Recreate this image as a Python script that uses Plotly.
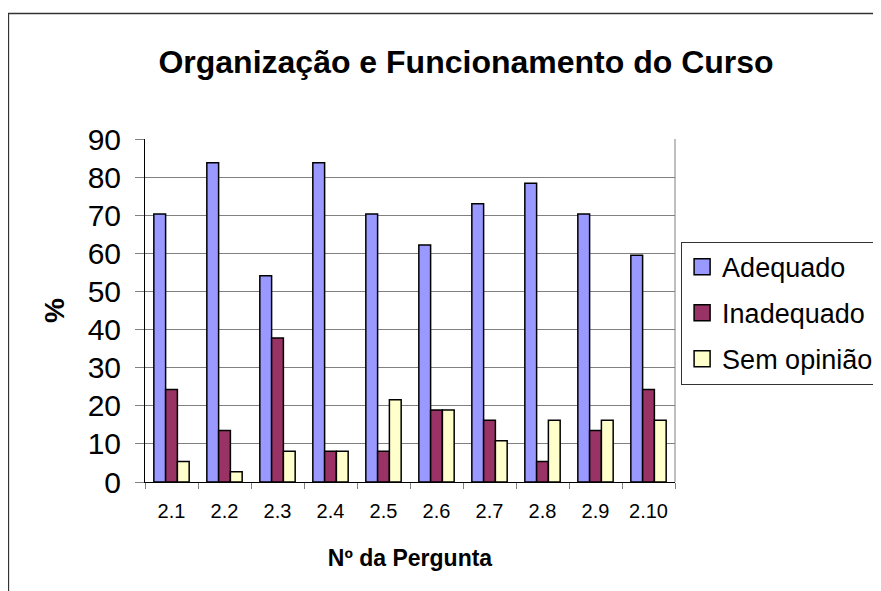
import plotly.graph_objects as go

categories = ["2.1", "2.2", "2.3", "2.4", "2.5", "2.6", "2.7", "2.8", "2.9", "2.10"]
adequado = [70.3, 83.8, 54.1, 83.8, 70.3, 62.2, 73.0, 78.4, 70.3, 59.5]
inadequado = [24.3, 13.5, 37.8, 8.1, 8.1, 18.9, 16.2, 5.4, 13.5, 24.3]
sem_opiniao = [5.4, 2.7, 8.1, 8.1, 21.6, 18.9, 10.8, 16.2, 16.2, 16.2]
series_names = ["Adequado", "Inadequado", "Sem opinião"]
series_values = [adequado, inadequado, sem_opiniao]
series_colors = ["#9999FF", "#993366", "#FFFFCC"]
y_ticks = [0, 10, 20, 30, 40, 50, 60, 70, 80, 90]

FONT = "Arial, 'Liberation Sans', sans-serif"
OFF = 8  # page body margin
W, H = 881 - OFF, 591 - OFF
# plot area in page pixels
L, R, T, B = 145, 674.6, 139.3, 481.7

def px2paper_x(px):
    return (px - L) / (R - L)

def px2paper_y(py):
    return (B - py) / (B - T)

fig = go.Figure()
for name, vals, col in zip(series_names, series_values, series_colors):
    fig.add_trace(go.Bar(
        x=categories, y=vals, name=name, showlegend=False,
        marker=dict(color=col, line=dict(color="#000000", width=1.5)),
    ))
for name, col in zip(series_names, series_colors):
    fig.add_trace(go.Scatter(
        x=[None], y=[None], mode="markers", name=name, legendgroup=name,
        marker=dict(symbol="square", size=16, color=col,
                    line=dict(color="#000000", width=1.5)),
    ))

fig.update_layout(
    width=W, height=H,
    margin=dict(l=L - OFF, r=881 - R, t=T - OFF, b=591 - B, autoexpand=False),
    paper_bgcolor="#FFFFFF", plot_bgcolor="#FFFFFF",
    barmode="group", bargap=1/3, bargroupgap=0,
    font=dict(family=FONT, color="#000000"),
    title=dict(text="<b>Organização e Funcionamento do Curso</b>",
               font=dict(size=32, family=FONT, color="#000000"),
               x=(466 - OFF) / W, xanchor="center", xref="container",
               y=1 - (62 - OFF) / H, yanchor="middle", yref="container"),
    xaxis=dict(
        type="category", showgrid=False, showline=True, linecolor="#000000", linewidth=1,
        ticks="outside", tickson="boundaries", ticklen=6, tickcolor="#808080",
        tickfont=dict(size=20, family=FONT, color="#000000"),
        ticklabelstandoff=11,
        title=dict(text="<b>Nº da Pergunta</b>", font=dict(size=23, family=FONT, color="#000000"),
                   standoff=28),
    ),
    yaxis=dict(
        range=[0, 90], tickvals=y_ticks, showgrid=True, gridcolor="#808080", gridwidth=1,
        showline=True, linecolor="#000000", linewidth=1, zeroline=False,
        ticks="outside", ticklen=9, tickcolor="#808080",
        tickfont=dict(size=30, family=FONT, color="#000000"),
        ticklabelstandoff=8,
        title=dict(text="<b>%</b>", font=dict(size=28, family=FONT, color="#000000"),
                   standoff=14),
    ),
    legend=dict(
        x=px2paper_x(680.7), y=px2paper_y(241.7), xanchor="left", yanchor="top",
        bordercolor="#333333", borderwidth=1, bgcolor="#FFFFFF",
        font=dict(size=27, family=FONT, color="#000000"),
        tracegroupgap=8, traceorder="grouped",
    ),
    shapes=[
        dict(type="line", xref="paper", yref="paper", x0=1, x1=1, y0=0, y1=1,
             line=dict(color="#808080", width=1)),
        dict(type="rect", xref="paper", yref="paper",
             x0=px2paper_x(8.5), x1=px2paper_x(900), y0=px2paper_y(14), y1=px2paper_y(620),
             line=dict(color="#333333", width=1.5), layer="above"),
    ],
)

fig.write_html("out.html")
